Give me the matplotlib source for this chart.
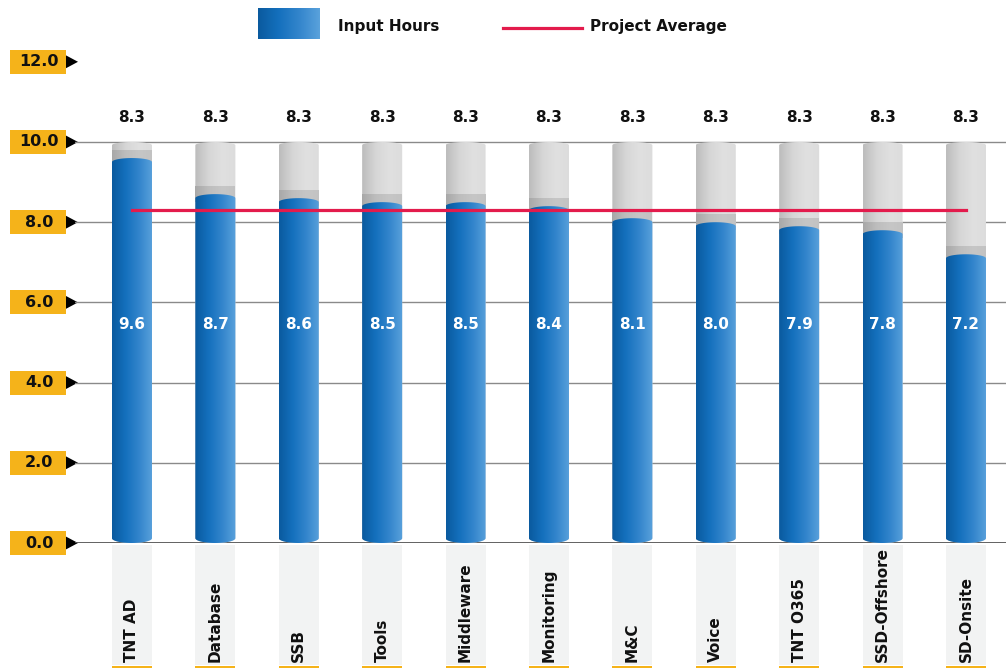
import matplotlib.pyplot as plt
import numpy as np
from matplotlib import transforms
from matplotlib.colors import LinearSegmentedColormap
from matplotlib.lines import Line2D
from matplotlib.patches import Polygon, Rectangle

categories = ['TNT AD', 'Database', 'SSB', 'Tools', 'Middleware', 'Monitoring',
              'M&C', 'Voice', 'TNT O365', 'SSD-Offshore', 'SD-Onsite']
input_hours = [9.6, 8.7, 8.6, 8.5, 8.5, 8.4, 8.1, 8.0, 7.9, 7.8, 7.2]
project_avg = [8.3, 8.3, 8.3, 8.3, 8.3, 8.3, 8.3, 8.3, 8.3, 8.3, 8.3]
y_ticks = [0, 2, 4, 6, 8, 10, 12]
bar_max = 10

plt.rcParams['font.family'] = ['DejaVu Sans']

W, H = 1006, 668
blue_cmap = LinearSegmentedColormap.from_list(
    'blue', ['#0a5a9e', '#1470bd', '#3385cc', '#5aa2dc'])
grey_cmap = LinearSegmentedColormap.from_list(
    'grey', ['#bcbcbc', '#d6d6d6', '#e0e0e0', '#dcdcdc'])
shade_cmap = LinearSegmentedColormap.from_list(
    'shade', ['#a8a8a8', '#bdbdbd', '#c6c6c6', '#c2c2c2'])
grad = np.linspace(0, 1, 256).reshape(1, -1)


def cylinder(ax, xc, w, bottom, top, cmap, dome, base, zorder):
    t = np.linspace(0, np.pi, 40)
    xs_top = xc + w / 2 * np.cos(t)
    ys_top = top - dome + dome * np.sin(t)
    xs_bot = xc - w / 2 * np.cos(t)
    ys_bot = bottom + base - base * np.sin(t)
    pts = np.column_stack([np.concatenate([xs_top, xs_bot]),
                           np.concatenate([ys_top, ys_bot])])
    poly = Polygon(pts, closed=True, facecolor='none', edgecolor='none')
    ax.add_patch(poly)
    im = ax.imshow(grad, cmap=cmap, extent=(xc - w / 2, xc + w / 2, bottom, top),
                   aspect='auto', interpolation='bicubic', zorder=zorder)
    im.set_clip_path(poly)


fig = plt.figure(figsize=(W / 100, H / 100), dpi=100)
ax = fig.add_axes([75 / W, 125 / H, 1 - 75 / W, 12.4 * 40.1 / H])
ax.set_facecolor('none')

x = np.arange(len(categories))
bw = 0.48

for i, v in enumerate(input_hours):
    cylinder(ax, x[i], bw, 0, bar_max, grey_cmap, 0.08, 0.12, 2)
    cylinder(ax, x[i], bw, v - 0.2, v + 0.2, shade_cmap, 0, 0, 3)
    cylinder(ax, x[i], bw, 0, v, blue_cmap, 0.1, 0.12, 4)
    ax.text(x[i], 5.45, f'{v:.1f}', color='white', ha='center', va='center',
            fontsize=11, fontweight='bold', zorder=6)
    ax.text(x[i], 10.6, f'{project_avg[i]:.1f}', color='#111111', ha='center',
            va='center', fontsize=11, fontweight='bold', zorder=6)

ax.plot(x, project_avg, color='#e31b4c', lw=2.3, zorder=5)

ax.set_xlim(-0.683, 10.48)
ax.set_ylim(0, 12.4)
for y in y_ticks[1:-1]:
    ax.axhline(y, color='#8a8a8a', lw=1, zorder=1)
ax.axhline(0, color='#555555', lw=1.3, zorder=1)
for s in ax.spines.values():
    s.set_visible(False)
ax.set_xticks([])
ax.set_yticks([])

# y labels in yellow boxes
ytrans = transforms.blended_transform_factory(fig.transFigure, ax.transData)
for y in y_ticks:
    fig.add_artist(Rectangle((10 / W, y - 0.3), 56 / W, 0.6, transform=ytrans,
                             facecolor='#f5b31a', edgecolor='none', zorder=-2))
    fig.add_artist(Polygon([(66 / W, y + 0.16), (78 / W, y), (66 / W, y - 0.16)],
                           transform=ytrans, facecolor='black', edgecolor='none',
                           zorder=-2))
    fig.text(39 / W, 0, f'{y:.1f}', transform=ytrans, ha='center', va='center',
             fontsize=11.5, fontweight='bold', color='#111111', zorder=3)
    fig.texts[-1].set_y(y)

# category labels in grey boxes
xtrans = transforms.blended_transform_factory(ax.transData, fig.transFigure)
for i, cat in enumerate(categories):
    fig.add_artist(Rectangle((x[i] - bw / 2, 3 / H), bw, 120 / H, transform=xtrans,
                             facecolor='#f2f3f3', edgecolor='none', zorder=-2))
    fig.add_artist(Rectangle((x[i] - bw / 2, 0), bw, 2.5 / H, transform=xtrans,
                             facecolor='#f5b31a', edgecolor='none', zorder=-2))
    fig.text(x[i], 6 / H, cat, transform=xtrans, rotation=90, ha='center',
             va='bottom', fontsize=11, fontweight='bold', color='#111111',
             zorder=3)

# legend
lax = fig.add_axes([258 / W, 1 - 39 / H, 62 / W, 31 / H])
lax.imshow(grad, cmap=blue_cmap, aspect='auto', interpolation='bicubic')
lax.axis('off')
fig.text(338 / W, 1 - 26 / H, 'Input Hours', ha='left', va='center',
         fontsize=11, fontweight='bold', color='#111111')
fig.add_artist(Line2D([503 / W, 582 / W], [1 - 28 / H, 1 - 28 / H],
                      transform=fig.transFigure, color='#e31b4c', lw=2.3))
fig.text(590 / W, 1 - 26 / H, 'Project Average', ha='left', va='center',
         fontsize=11, fontweight='bold', color='#111111')

fig.savefig('out.png', dpi=100)
